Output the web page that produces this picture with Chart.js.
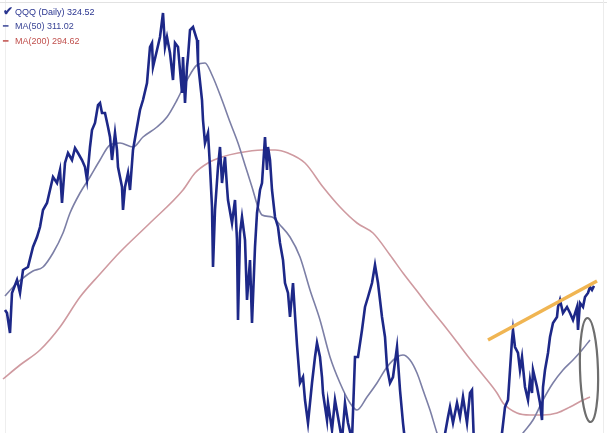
<!DOCTYPE html>
<html>
<head>
<meta charset="utf-8">
<script src="https://cdn.jsdelivr.net/npm/chart.js@4.4.1/dist/chart.umd.min.js"></script>
<style>
  html, body { margin: 0; padding: 0; background: #ffffff; }
  #wrap { position: relative; width: 607px; height: 433px; overflow: hidden; }
  #wrap::before { content: ""; position: absolute; left: 0; right: 0; top: 2px; height: 1px; background: #e2e2e2; z-index: 2; }
  #wrap::after { content: ""; position: absolute; top: 0; bottom: 0; right: 3px; width: 1px; background: #ececec; z-index: 2; }
  #lborder { position: absolute; top: 0; bottom: 0; left: 5px; width: 1px; background: #eeeeee; z-index: 0; }
  canvas { position: absolute; left: 0; top: 0; z-index: 1; }
  #legend { position: absolute; left: 3px; top: 4px; font-family: "Liberation Sans", Arial, sans-serif; font-size: 9px; line-height: 15px; z-index: 3; }
  #legend div { white-space: nowrap; height: 15px; }
  .sym { display: inline-block; width: 12px; }
</style>
</head>
<body>
<div id="wrap">
  <div id="lborder"></div>
  <canvas id="c" width="607" height="433"></canvas>
  <div id="legend">
    <div style="color:#2a3590"><span class="sym" style="font-weight:bold;font-size:12px">&#x2714;</span><span id="l0"></span></div>
    <div style="color:#3a4596"><span class="sym">&#x2501;</span><span id="l1"></span></div>
    <div style="color:#c0504d"><span class="sym">&#x2501;</span><span id="l2"></span></div>
  </div>
</div>
<script>
// ---- Data (trading-day index, price) ----
const legendLabels = ["QQQ (Daily) 324.52", "MA(50) 311.02", "MA(200) 294.62"];

const priceDays = [5,7,10,12,17,20,23,28,33,37,40,43,47,50,53,57,60,62,65,68,72,75,78,82,85,87,90,92,95,98,100,102,105,108,110,112,115,117,118,122,123,125,128,130,133,137,140,143,147,150,152,153,157,160,163,165,167,170,173,175,178,182,183,185,187,188,190,193,197,198,202,203,205,208,210,212,213,215,218,220,222,225,227,228,232,235,237,238,240,242,245,247,250,252,255,257,260,262,265,267,268,270,272,275,278,280,283,285,288,290,293,295,297,300,303,305,308,312,315,317,320,322,323,327,328,332,335,338,342,345,348,352,355,358,362,365,368,372,375,378,382,385,387,390,393,397,400,403,406,415,425,435,443,448,450,453,457,460,463,467,470,472,474,480,490,498,502,505,508,510,512,513,515,518,520,522,525,528,530,532,533,537,540,542,543,545,548,550,553,557,558,560,563,567,570,573,577,578,580,583,585,588,590,592,594];
const priceValues = [318.5,317.75,312.75,322.75,326,322.75,328.5,329.25,334.25,336.75,339.25,343.5,345.25,348.5,351.75,350.25,353.5,345.25,355.25,357.75,356,359,357.75,356,354.25,351,359.25,363.5,365.25,369.75,370.25,367.75,367.75,364.25,361.75,356,362.75,358.5,354.25,349.25,343.5,349.25,352.75,348.5,358.5,364.25,368.5,371,375.25,384.25,385.25,379.25,383.5,386.75,392.75,384.25,386.75,382.75,376,385.25,384.25,372.75,381.75,370.25,379.25,381.75,388.5,389.25,386,380.25,371,366,360.25,362.75,354.25,344.25,329.25,343.5,354.25,359.25,350.25,356.75,349.25,346,340.25,346,336,316,337.75,341.75,336,321,331,315.25,334.25,342.75,348.5,350.25,361.75,353.5,359.25,356,348.5,341.75,339.25,335.25,331,325.25,322.75,316.75,325.25,317.25,309.75,300.25,301.75,296,290.25,300.25,306.75,310.25,306.75,301.75,297.75,291,295.25,288.5,296,291.75,286,295.25,290.25,286,306.75,306.75,313.5,319.25,321.75,325.25,329.75,325.25,316.75,311.75,304.25,300.25,301.75,309.25,298.5,290.25,283.5,278.5,276,281,284.75,291.75,294.25,290.25,295.25,291.75,296.75,290.25,297.75,298.5,284.75,278.5,281,284.75,287.75,294.25,296,303.5,311,313.5,309.25,307.75,303.5,306.75,299.25,296,301,297.75,303.5,299.25,295.25,291,299.25,303.5,307.75,311.75,315.25,316.75,319.25,321,317.75,319.25,317.75,316,319.25,313.5,320.25,319.25,321.75,322.75,324.25,323.5,324.52];

const ma50Days = [5,15,23,33,43,53,63,70,80,90,100,110,120,133,143,157,167,177,187,197,205,212,222,230,238,245,252,258,262,272,280,290,300,310,320,330,340,350,357,367,377,387,397,403,410,417,423,430,437,445,460,480,500,515,523,533,543,553,563,573,582,590];
const ma50Values = [322,324.75,326.5,328.25,329.25,332.75,337.75,342.75,347.75,351.75,356,359.75,360.25,359.25,361.75,364.25,366.75,371,376,379.75,380.25,377.25,371,365.5,360.25,354.75,349.25,344.25,342.25,341.75,339.75,336.75,331.75,323.5,316,306.75,300.25,295.25,293.5,296.75,300.25,304.25,306.75,307.25,306,302.75,298.5,293.5,287.75,282.25,278.5,278.5,281,284.75,287.75,291,296,300.25,303.5,306,308.5,311];

const ma200Days = [3,20,40,60,80,100,120,150,183,195,208,222,238,262,275,288,305,323,340,357,373,390,403,417,430,443,457,470,483,497,503,517,530,543,557,570,583,590];
const ma200Values = [301.25,304.75,308.5,314.25,321.75,327.5,333,340.25,348.5,352.75,355.25,356.75,357.75,358.5,358.5,357.75,355.25,349.25,344.25,340.25,337.75,332.25,327.75,323.25,319,315,310.5,306.25,302.25,297.75,295.25,292.75,292.25,292.25,292.75,294.25,296,296.75];

const trendDays = [488, 597];
const trendValues = [311, 325.75];

// highlight ellipse (center day, center price, half-width in days, half-height in price)
const circleCenter = [589, 303.5];
const circleRadii = [9, 13];

const xRange = [0, 607];
const yRange = [287.75, 396];

const toXY = (xs, ys) => xs.map((x, i) => ({ x: x, y: ys[i] }));

document.getElementById('l0').textContent = legendLabels[0];
document.getElementById('l1').textContent = legendLabels[1];
document.getElementById('l2').textContent = legendLabels[2];

const ellipsePlugin = {
  id: 'ellipse',
  afterDatasetsDraw(chart) {
    const { ctx, scales } = chart;
    const cx = scales.x.getPixelForValue(circleCenter[0]);
    const cy = scales.y.getPixelForValue(circleCenter[1]);
    const rx = Math.abs(scales.x.getPixelForValue(circleCenter[0] + circleRadii[0]) - cx);
    const ry = Math.abs(scales.y.getPixelForValue(circleCenter[1] + circleRadii[1]) - cy);
    ctx.save();
    ctx.beginPath();
    ctx.ellipse(cx, cy, rx, ry, -0.03, 0, Math.PI * 2);
    ctx.strokeStyle = '#6e6e6e';
    ctx.lineWidth = 2.2;
    ctx.stroke();
    ctx.restore();
  }
};

new Chart(document.getElementById('c'), {
  type: 'line',
  data: {
    datasets: [
      { label: 'MA(200)', data: toXY(ma200Days, ma200Values), borderColor: '#cf9aa0', borderWidth: 1.6, pointRadius: 0, cubicInterpolationMode: 'monotone', order: 3 },
      { label: 'MA(50)', data: toXY(ma50Days, ma50Values), borderColor: '#7c7fa6', borderWidth: 1.6, pointRadius: 0, cubicInterpolationMode: 'monotone', order: 2 },
      { label: 'QQQ', data: toXY(priceDays, priceValues), borderColor: '#1d2888', borderWidth: 2.6, pointRadius: 0, tension: 0, order: 1 },
      { label: 'Trend', data: toXY(trendDays, trendValues), borderColor: '#f0b552', borderWidth: 3.5, pointRadius: 0, tension: 0, order: 0 }
    ]
  },
  options: {
    responsive: false,
    animation: false,
    events: [],
    layout: { padding: 0 },
    plugins: { legend: { display: false }, tooltip: { enabled: false } },
    scales: {
      x: { type: 'linear', min: xRange[0], max: xRange[1], display: false },
      y: { type: 'linear', min: yRange[0], max: yRange[1], display: false }
    }
  },
  plugins: [ellipsePlugin]
});
</script>
</body>
</html>
